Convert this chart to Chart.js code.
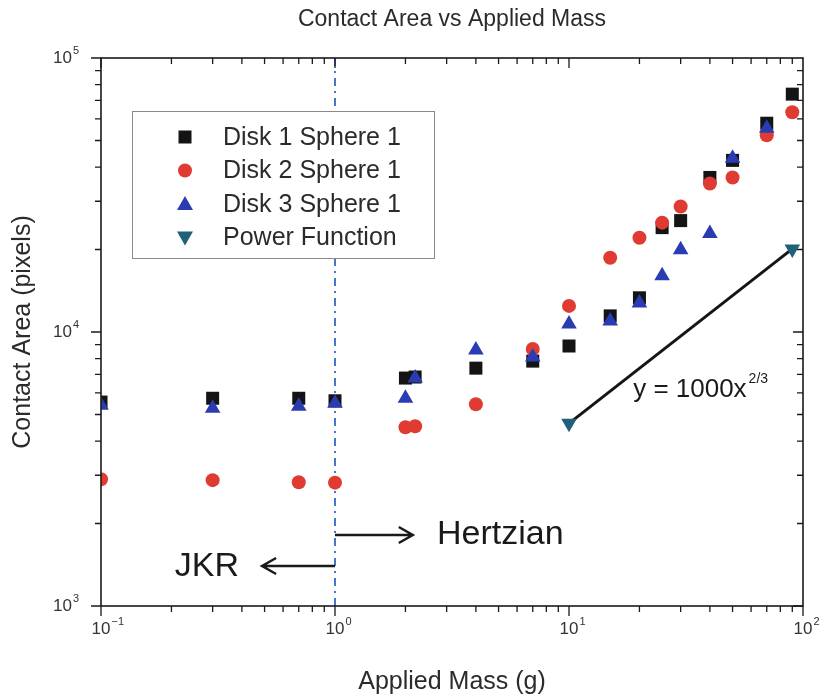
<!DOCTYPE html>
<html>
<head>
<meta charset="utf-8">
<script src="https://cdn.jsdelivr.net/npm/chart.js@4.4.0/dist/chart.umd.min.js"></script>
<style>
html, body { margin: 0; padding: 0; background: #fff; }
canvas { display: block; }
</style>
</head>
<body>
<canvas id="chart" width="820" height="698"></canvas>
<script>
// données
const masseD1 = [0.1, 0.3, 0.7, 1, 2, 2.2, 4, 7, 10, 15, 20, 25, 30, 40, 50, 70, 90];
const aireD1 = [5550, 5730, 5730, 5610, 6790, 6850, 7380, 7830, 8890, 11450, 13330, 24040, 25500, 36650, 42300, 57800, 73800];

const masseD2 = [0.1, 0.3, 0.7, 1, 2, 2.2, 4, 7, 10, 15, 20, 25, 30, 40, 50, 70, 90];
const aireD2 = [2900, 2880, 2830, 2820, 4490, 4530, 5450, 8670, 12450, 18660, 22090, 25070, 28710, 34850, 36650, 52240, 63400];

const masseD3 = [0.1, 0.3, 0.7, 1, 2, 2.2, 4, 7, 10, 15, 20, 25, 30, 40, 50, 70];
const aireD3 = [5400, 5270, 5355, 5495, 5730, 6800, 8590, 8100, 10700, 10970, 12770, 16030, 19960, 22860, 43050, 55450];

const massePuissance = [10, 90];
const airePuissance = [4640, 20100];

const masseFrontiere = [1, 1];
const aireFrontiere = [1000, 100000];

const exposantsX = [-1, 0, 1, 2];
const exposantsY = [3, 4, 5];

const nomsSeries = ["Disk 1 Sphere 1", "Disk 2 Sphere 1", "Disk 3 Sphere 1", "Power Function"];

const POLICE = "'Liberation Sans', Arial, sans-serif";
const TEXTE = "#2b2b2b";

function points(xs, ys) {
    return xs.map((x, i) => ({ x: x, y: ys[i] }));
}

function dessinerPuissance(ctx, exp, x, y, align) {
    const base = "10";
    const sup = String(exp).replace("-", "\u2212");
    ctx.font = "17px " + POLICE;
    const lb = ctx.measureText(base).width;
    let x0 = align === "right" ? x - lb : x - lb / 2;
    ctx.fillStyle = "#333";
    ctx.textBaseline = "middle";
    ctx.textAlign = "left";
    ctx.fillText(base, x0, y);
    ctx.font = "11px " + POLICE;
    ctx.fillText(sup, x0 + lb + 1, y - 7);
}

function fleche(ctx, x1, y1, x2, y2) {
    const dir = Math.sign(x2 - x1);
    ctx.beginPath();
    ctx.moveTo(x1, y1);
    ctx.lineTo(x2, y2);
    ctx.moveTo(x2 - dir * 14, y2 - 8);
    ctx.lineTo(x2, y2);
    ctx.lineTo(x2 - dir * 14, y2 + 8);
    ctx.stroke();
}

function marqueur(ctx, style, x, y, couleur) {
    ctx.fillStyle = couleur;
    ctx.beginPath();
    if (style === "rect") {
        ctx.rect(x - 6.5, y - 6.5, 13, 13);
    } else if (style === "circle") {
        ctx.arc(x, y, 7, 0, Math.PI * 2);
    } else if (style === "up") {
        ctx.moveTo(x, y - 8);
        ctx.lineTo(x + 8, y + 6);
        ctx.lineTo(x - 8, y + 6);
    } else {
        ctx.moveTo(x, y + 8);
        ctx.lineTo(x + 8, y - 6);
        ctx.lineTo(x - 8, y - 6);
    }
    ctx.closePath();
    ctx.fill();
}

const cadrePlugin = {
    id: "cadre",
    afterDatasetsDraw(chart) {
        const ctx = chart.ctx;
        const a = chart.chartArea;
        const sx = chart.scales.x;
        const sy = chart.scales.y;
        ctx.save();

        // légende (fond blanc par-dessus la frontière)
        ctx.fillStyle = "#fff";
        ctx.fillRect(132.5, 111.5, 302, 147);
        ctx.strokeStyle = "#8a8a8a";
        ctx.lineWidth = 1;
        ctx.strokeRect(132.5, 111.5, 302, 147);
        const styles = ["rect", "circle", "up", "down"];
        chart.data.datasets.slice(1).forEach((ds, i) => {
            const y = 137 + i * 33.5;
            marqueur(ctx, styles[i], 185, y, ds.pointBackgroundColor);
            ctx.fillStyle = TEXTE;
            ctx.textAlign = "left";
            ctx.textBaseline = "middle";
            ctx.font = "25px " + POLICE;
            ctx.fillText(nomsSeries[i], 223, y + 1);
        });

        ctx.strokeStyle = "#1a1a1a";
        ctx.lineWidth = 1.6;
        ctx.strokeRect(a.left, a.top, a.right - a.left, a.bottom - a.top);

        ctx.lineWidth = 1.3;
        ctx.beginPath();
        // graduations X
        for (let e = -1; e <= 1; e++) {
            for (let m = 1; m <= 9; m++) {
                const px = sx.getPixelForValue(m * Math.pow(10, e));
                const l = m === 1 ? 10 : 6;
                ctx.moveTo(px, a.bottom);
                ctx.lineTo(px, a.bottom + l);
                ctx.moveTo(px, a.top);
                ctx.lineTo(px, a.top + l);
            }
        }
        // graduations Y
        for (let e = 3; e <= 4; e++) {
            for (let m = 1; m <= 9; m++) {
                const py = sy.getPixelForValue(m * Math.pow(10, e));
                const l = m === 1 ? 10 : 6;
                ctx.moveTo(a.left, py);
                ctx.lineTo(a.left - l, py);
                ctx.moveTo(a.right, py);
                ctx.lineTo(a.right - l, py);
            }
        }
        ctx.moveTo(a.left, a.top);
        ctx.lineTo(a.left - 10, a.top);
        ctx.moveTo(a.right, a.bottom);
        ctx.lineTo(a.right, a.bottom + 10);
        ctx.stroke();

        exposantsX.forEach(e => {
            dessinerPuissance(ctx, e, sx.getPixelForValue(Math.pow(10, e)), a.bottom + 23, "center");
        });
        exposantsY.forEach(e => {
            dessinerPuissance(ctx, e, a.left - 29, sy.getPixelForValue(Math.pow(10, e)), "right");
        });
        ctx.restore();
    },
    afterDraw(chart) {
        const ctx = chart.ctx;
        const a = chart.chartArea;
        const sx = chart.scales.x;
        const sy = chart.scales.y;
        ctx.save();

        // titres
        ctx.fillStyle = TEXTE;
        ctx.textAlign = "center";
        ctx.textBaseline = "middle";
        ctx.font = "23px " + POLICE;
        ctx.fillText("Contact Area vs Applied Mass", (a.left + a.right) / 2, 20);
        ctx.font = "25px " + POLICE;
        ctx.fillText("Applied Mass (g)", (a.left + a.right) / 2, 682);
        ctx.save();
        ctx.translate(23, (a.top + a.bottom) / 2);
        ctx.rotate(-Math.PI / 2);
        ctx.fillText("Contact Area (pixels)", 0, 0);
        ctx.restore();

        // régimes JKR / Hertzien
        const x1 = sx.getPixelForValue(1);
        ctx.strokeStyle = "#1a1a1a";
        ctx.lineWidth = 2.5;
        const yH = sy.getPixelForValue(1816);
        const yJ = sy.getPixelForValue(1400);
        fleche(ctx, x1, yH, sx.getPixelForValue(2.15), yH);
        fleche(ctx, x1, yJ, sx.getPixelForValue(0.488), yJ);
        ctx.fillStyle = "#1a1a1a";
        ctx.font = "34px " + POLICE;
        ctx.textBaseline = "middle";
        ctx.textAlign = "left";
        ctx.fillText("Hertzian", sx.getPixelForValue(2.73), yH);
        ctx.textAlign = "right";
        ctx.fillText("JKR", sx.getPixelForValue(0.389), yJ + 1);

        // équation
        ctx.textAlign = "left";
        ctx.textBaseline = "alphabetic";
        ctx.font = "26px " + POLICE;
        const ex = sx.getPixelForValue(18.8);
        const ey = sy.getPixelForValue(5800);
        ctx.fillText("y = 1000x", ex, ey);
        const lw = ctx.measureText("y = 1000x").width;
        ctx.font = "14px " + POLICE;
        ctx.fillText("2/3", ex + lw + 2, ey - 14);
        ctx.restore();
    }
};

new Chart(document.getElementById("chart"), {
    type: "scatter",
    data: {
        datasets: [
            {
                label: "frontière",
                data: points(masseFrontiere, aireFrontiere),
                showLine: true,
                borderColor: "#2f67cc",
                borderWidth: 1.8,
                borderDash: [8, 5, 2, 5],
                pointRadius: 0,
                order: 10,
                clip: 0
            },
            {
                label: nomsSeries[0],
                data: points(masseD1, aireD1),
                pointStyle: "rect",
                pointRadius: 9.2,
                pointBackgroundColor: "#141414",
                pointBorderWidth: 0,
                order: 4,
                clip: 0
            },
            {
                label: nomsSeries[1],
                data: points(masseD2, aireD2),
                pointStyle: "circle",
                pointRadius: 7,
                pointBackgroundColor: "#e03b32",
                pointBorderWidth: 0,
                order: 3,
                clip: 0
            },
            {
                label: nomsSeries[2],
                data: points(masseD3, aireD3),
                pointStyle: "triangle",
                pointRadius: 9,
                pointBackgroundColor: "#2a3cb2",
                pointBorderWidth: 0,
                order: 2,
                clip: 0
            },
            {
                label: nomsSeries[3],
                data: points(massePuissance, airePuissance),
                showLine: true,
                borderColor: "#151515",
                borderWidth: 3,
                pointStyle: "triangle",
                rotation: 180,
                pointRadius: 9,
                pointBackgroundColor: "#1f6178",
                pointBorderWidth: 0,
                order: 1,
                clip: 0
            }
        ]
    },
    options: {
        responsive: false,
        animation: false,
        layout: { padding: { left: 101, right: 17, top: 58, bottom: 92 } },
        plugins: {
            legend: { display: false },
            tooltip: { enabled: false },
            title: { display: false }
        },
        scales: {
            x: { type: "logarithmic", min: 0.1, max: 100, display: false },
            y: { type: "logarithmic", min: 1000, max: 100000, display: false }
        }
    },
    plugins: [cadrePlugin]
});
</script>
</body>
</html>
